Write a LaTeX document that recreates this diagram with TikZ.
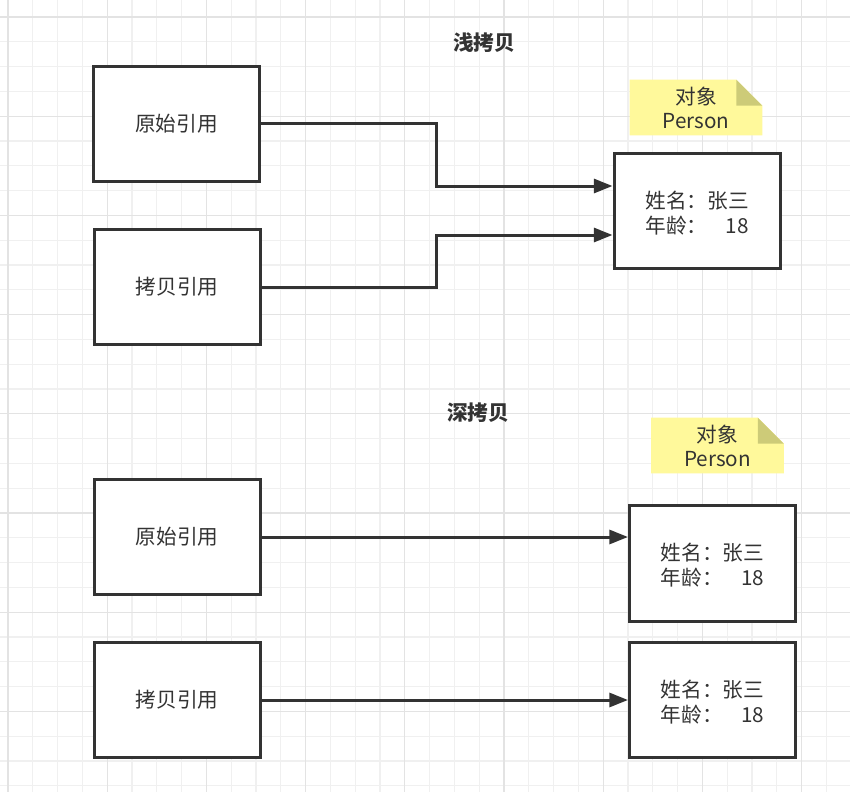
\documentclass[tikz,border=0pt]{standalone}
\usepackage{fontspec}
\setmainfont{Noto Sans CJK SC}
\usetikzlibrary{arrows.meta,positioning}
\definecolor{ink}{HTML}{333333}
\definecolor{notey}{HTML}{FFF99B}
\definecolor{notefold}{HTML}{CDCB78}
\pgfdeclarelayer{grid}
\pgfdeclarelayer{bg}
\pgfsetlayers{grid,bg,main}
\newcommand{\persontext}{\raisebox{-3.5pt}[\height][\depth]{\begin{tabular}{@{}l@{}r@{}}姓名：&张三\\年龄：&18\end{tabular}}}

\begin{document}
\begin{tikzpicture}[x=0.75pt,y=-0.75pt,
    every node/.style={text=ink, font=\fontsize{15.5}{18.75}\selectfont},
    ref/.style={draw=ink, line width=2.25pt, fill=white, minimum width=124.5pt, minimum height=86.5pt, inner sep=0pt},
    note/.style={minimum width=99pt, minimum height=41.5pt, inner sep=0pt, align=center,
      font=\fontsize{15.5}{18}\selectfont},
    ttl/.style={font=\fontsize{15.5}{18}\selectfont\bfseries},
    arr/.style={-{Triangle[length=14pt,width=10.5pt]}, draw=ink, line width=2.25pt},
    minor/.style={draw=black!6, line width=0.9pt},
    major/.style={draw=black!11, line width=0.9pt}
  ]
  \useasboundingbox (0,0) rectangle (850,792);

  % background grid
  \begin{pgfonlayer}{grid}
    \fill[white] (0,0) rectangle (850,792);
    \foreach \k in {0,...,34} {
      \draw[minor] (8+24.8*\k,0) -- (8+24.8*\k,792);
    }
    \foreach \k in {-1,...,31} {
      \draw[minor] (0,17+24.8*\k) -- (850,17+24.8*\k);
    }
    \foreach \k in {0,4,...,32} {
      \draw[major] (8+24.8*\k,0) -- (8+24.8*\k,792);
    }
    \foreach \k in {0,4,...,28} {
      \draw[major] (0,17+24.8*\k) -- (850,17+24.8*\k);
    }
  \end{pgfonlayer}

  % shallow copy
  \node[ttl] (stitle) at (484,43) {浅拷贝};
  \node[ref] (sorig) at (176.5,124) {原始引用};
  \node[ref] (scopy) at (177,287) {拷贝引用};
  \node[ref] (sobj) at (697,211) {\persontext};
  \node[note] (snote) at (696,107.5) {对象\\Person};

  \coordinate (sk1) at (436,186);
  \coordinate (sk2) at (436,235);
  \draw[arr] (sorig.east) -| (sk1) -- (sk1 -| sobj.west);
  \draw[arr] (scopy.east) -| (sk2) -- (sk2 -| sobj.west);

  % deep copy
  \node[ttl] (dtitle) at (478,413) {深拷贝};
  \node[ref] (dorig) at (177,537) {原始引用};
  \node[ref] (dcopy) at (177,700) {拷贝引用};
  \node[ref] (dobj1) at (712.5,563.5) {\persontext};
  \node[ref] (dobj2) at (712.5,700) {\persontext};
  \node[note] (dnote) at (717.5,445.5) {对象\\Person};

  \draw[arr] (dorig.east) -- (dorig.east -| dobj1.west);
  \draw[arr] (dcopy.east) -- (dcopy.east -| dobj2.west);

  % note backgrounds with folded corner
  \begin{pgfonlayer}{bg}
    \foreach \n in {snote,dnote} {
      \fill[notey] (\n.north west) -- ([xshift=-19.5pt]\n.north east) -- ([yshift=-19.5pt]\n.north east)
        -- (\n.south east) -- (\n.south west) -- cycle;
      \fill[notefold] ([xshift=-19.5pt]\n.north east) -- ([xshift=-19.5pt,yshift=-19.5pt]\n.north east)
        -- ([yshift=-19.5pt]\n.north east) -- cycle;
    }
  \end{pgfonlayer}
\end{tikzpicture}
\end{document}
